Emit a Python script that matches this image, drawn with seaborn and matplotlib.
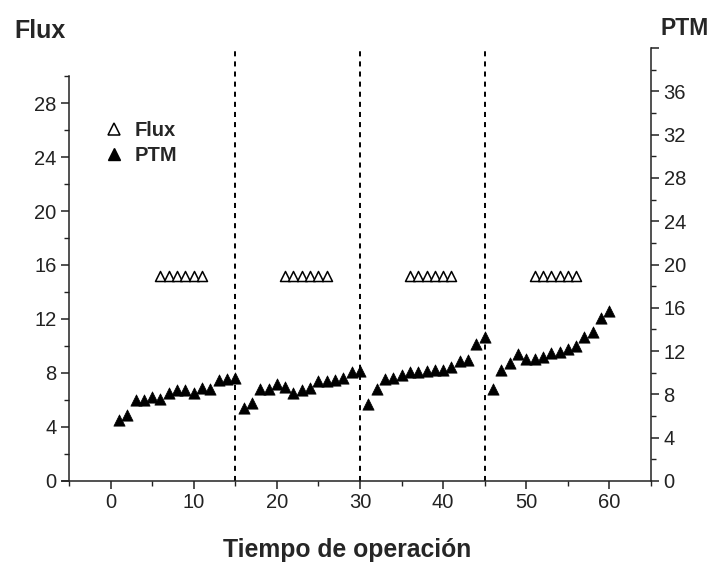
import matplotlib
matplotlib.use("Agg")
import matplotlib.pyplot as plt
import seaborn as sns
import pandas as pd
from matplotlib.ticker import MultipleLocator, FixedLocator
from matplotlib.lines import Line2D

# ---- data ----
tiempo_ptm = list(range(1, 61))
ptm = [5.6, 6.1, 7.5, 7.5, 7.8, 7.6, 8.1, 8.4, 8.4, 8.1, 8.6, 8.5, 9.3, 9.4, 9.5,
       6.7, 7.2, 8.5, 8.5, 9.0, 8.7, 8.1, 8.4, 8.6, 9.2, 9.2, 9.3, 9.5, 10.1, 10.2,
       7.1, 8.5, 9.4, 9.5, 9.8, 10.1, 10.1, 10.2, 10.3, 10.3, 10.5, 11.1, 11.2, 12.7, 13.3,
       8.5, 10.3, 10.9, 11.7, 11.3, 11.3, 11.5, 11.8, 11.9, 12.2, 12.5, 13.3, 13.8, 15.1, 15.7]
tiempo_flux = [6, 7, 8, 9, 10, 11, 21, 22, 23, 24, 25, 26,
               36, 37, 38, 39, 40, 41, 51, 52, 53, 54, 55, 56]
flux = [15.2, 15.2, 15.2, 15.2, 15.2, 15.2, 15.2, 15.2, 15.2, 15.2, 15.2, 15.2,
        15.2, 15.2, 15.2, 15.2, 15.2, 15.2, 15.2, 15.2, 15.2, 15.2, 15.2, 15.2]
cambios = [15, 30, 45]
flux_ticks = [0, 4, 8, 12, 16, 20, 24, 28]
ptm_ticks = [0, 4, 8, 12, 16, 20, 24, 28, 32, 36]
x_ticks = [0, 10, 20, 30, 40, 50, 60]

df_ptm = pd.DataFrame({"t": tiempo_ptm, "ptm": ptm})
df_flux = pd.DataFrame({"t": tiempo_flux, "flux": flux})

sns.set_style("ticks")
plt.rcParams["font.family"] = ["Liberation Sans", "DejaVu Sans"]
txt = "#222222"
W, H = 712, 564

fig = plt.figure(figsize=(7.12, 5.64), dpi=100)
ax = fig.add_axes([69 / W, 83 / H, 582 / W, 433 / H])
ax2 = ax.twinx()

sns.scatterplot(data=df_flux, x="t", y="flux", ax=ax, marker="^", s=52,
                facecolor="white", edgecolor="black", linewidth=1.1, zorder=3)
sns.scatterplot(data=df_ptm, x="t", y="ptm", ax=ax2, marker="^", s=66,
                color="black", edgecolor="black", linewidth=0.5, zorder=3)

for c in cambios:
    ax.axvline(c, color="black", lw=1.4, ls=(0, (2.6, 2.6)), zorder=1)

ax.set_xlim(-5, 65)
ax.set_ylim(0, 433 / 13.5)
ax2.set_ylim(0, 40)

ax.xaxis.set_major_locator(FixedLocator(x_ticks))
ax.xaxis.set_minor_locator(MultipleLocator(5))
ax.yaxis.set_major_locator(FixedLocator(flux_ticks))
ax.yaxis.set_minor_locator(FixedLocator([2, 6, 10, 14, 18, 22, 26, 30]))
ax2.yaxis.set_major_locator(FixedLocator(ptm_ticks + [40]))
ax2.yaxis.set_minor_locator(MultipleLocator(2))
ax2.set_yticklabels([str(v) for v in ptm_ticks] + [""])

for a in (ax, ax2):
    a.spines["top"].set_visible(False)
    for s in a.spines.values():
        s.set_linewidth(1.1)
        s.set_color("#222222")
ax.spines["right"].set_visible(False)
ax2.spines["left"].set_visible(False)
ax2.spines["bottom"].set_visible(False)
ax.spines["left"].set_bounds(0, 30)
ax.spines["bottom"].set_bounds(-5.8, 65)

ax.tick_params(axis="both", which="major", length=6, width=1.1, labelsize=14.5,
               colors="#222222", labelcolor=txt, pad=3)
ax.tick_params(axis="both", which="minor", length=3.3, width=1.0, colors="#222222")
ax2.tick_params(axis="y", which="major", length=6, width=1.1, labelsize=14.5,
                colors="#222222", labelcolor=txt, pad=3)
ax2.tick_params(axis="y", which="minor", length=3.3, width=1.0, colors="#222222")

ax.set_ylabel("")
ax2.set_ylabel("")
ax.set_xlabel("")

fig.text(347 / W, 1 - 557 / H, "Tiempo de operación", fontsize=17.8,
         fontweight="bold", ha="center", va="baseline")
fig.text(14 / W, 1 - 37.5 / H, "Flux", fontsize=18, fontweight="bold",
         ha="left", va="baseline")
fig.text(709 / W, 1 - 35 / H, "PTM", fontsize=16.5, fontweight="bold",
         ha="right", va="baseline")

handles = [
    Line2D([], [], marker="^", ls="none", markersize=8, markerfacecolor="white",
           markeredgecolor="black", markeredgewidth=1.1, label="Flux"),
    Line2D([], [], marker="^", ls="none", markersize=8, markerfacecolor="black",
           markeredgecolor="black", label="PTM"),
]
leg = ax.legend(handles=handles, loc="upper left", bbox_to_anchor=(0.044, 0.849),
                frameon=False, prop={"weight": "bold", "size": 14.5},
                handlelength=1.1, handletextpad=0.5, labelspacing=0.3,
                borderaxespad=0)

fig.savefig("out.png", dpi=100)
